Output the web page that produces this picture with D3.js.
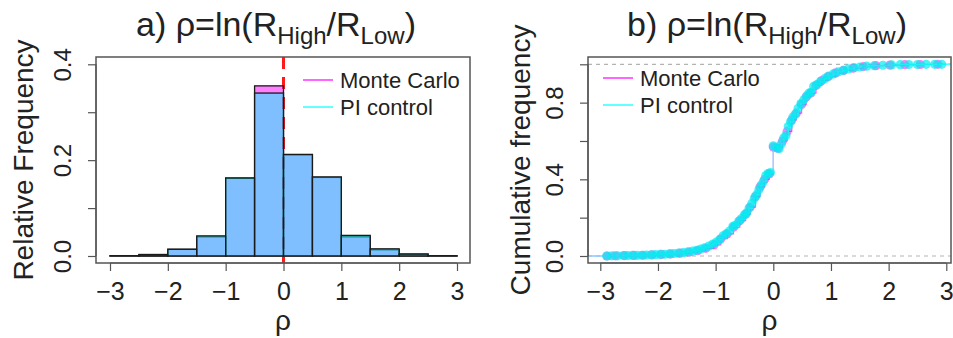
<!DOCTYPE html>
<html>
<head>
<meta charset="utf-8">
<script src="https://d3js.org/d3.v7.min.js"></script>
<style>
  body { margin: 0; background: #fff; }
  svg { font-family: "Liberation Sans", Arial, sans-serif; }
</style>
</head>
<body>
<svg id="chart" width="953" height="338"></svg>
<script>
// --- data ---
const binEdges = [-3, -2.5, -2, -1.5, -1, -0.5, 0, 0.5, 1, 1.5, 2, 2.5, 3];
const mcFreq = [0.0005, 0.003, 0.014, 0.040, 0.162, 0.355, 0.211, 0.164, 0.040, 0.013, 0.004, 0.0005];
const piFreq = [0.0005, 0.003, 0.014, 0.042, 0.163, 0.340, 0.212, 0.165, 0.043, 0.015, 0.004, 0.0005];

// empirical cdf, PI control (rho, F)
const piRho = [-2.89, -2.80, -2.70, -2.60, -2.52, -2.44, -2.36, -2.28, -2.20, -2.12, -2.04, -1.96, -1.88, -1.80,
  -1.72, -1.64, -1.56, -1.48, -1.40, -1.33, -1.26, -1.19, -1.12, -1.05, -0.99, -0.93, -0.87, -0.82, -0.76,
  -0.70, -0.66, -0.60, -0.55, -0.50, -0.46, -0.42, -0.37, -0.33, -0.29, -0.25, -0.21, -0.17, -0.13, -0.09,
  -0.05, 0.00, 0.05, 0.10, 0.14, 0.18, 0.22, 0.26, 0.30, 0.34, 0.38, 0.43, 0.48, 0.53, 0.58, 0.62, 0.66,
  0.70, 0.76, 0.82, 0.89, 0.96, 1.04, 1.12, 1.21, 1.30, 1.40, 1.50, 1.62, 1.75, 1.90, 2.05, 2.20, 2.35,
  2.50, 2.65, 2.80, 2.92];
const piCdf = [0.000, 0.001, 0.001, 0.002, 0.002, 0.003, 0.003, 0.004, 0.005, 0.006, 0.007, 0.008, 0.009, 0.011,
  0.013, 0.015, 0.018, 0.021, 0.025, 0.030, 0.036, 0.043, 0.051, 0.062, 0.072, 0.085, 0.105, 0.115, 0.130,
  0.155, 0.160, 0.180, 0.195, 0.215, 0.225, 0.250, 0.275, 0.300, 0.320, 0.345, 0.370, 0.390, 0.420, 0.430,
  0.435, 0.575, 0.565, 0.560, 0.585, 0.615, 0.630, 0.675, 0.700, 0.725, 0.740, 0.770, 0.795, 0.815, 0.835,
  0.850, 0.855, 0.885, 0.895, 0.910, 0.925, 0.938, 0.950, 0.960, 0.968, 0.976, 0.982, 0.986, 0.990, 0.993,
  0.995, 0.997, 0.998, 0.999, 0.999, 1.000, 1.000, 1.000];

// empirical cdf, Monte Carlo (mostly hidden under PI control)
const mcRho = [-2.88, -2.74, -2.58, -2.42, -2.26, -2.10, -1.94, -1.78, -1.62, -1.46, -1.31, -1.17, -1.03, -0.91,
  -0.80, -0.69, -0.58, -0.48, -0.40, -0.31, -0.23, -0.15, -0.07, 0.00, 0.08, 0.16, 0.24, 0.32, 0.40, 0.49,
  0.57, 0.65, 0.74, 0.84, 0.95, 1.08, 1.22, 1.38, 1.56, 1.78, 2.02, 2.28, 2.55, 2.85];
const mcCdf = [0.000, 0.001, 0.002, 0.003, 0.004, 0.006, 0.008, 0.011, 0.015, 0.020, 0.028, 0.040, 0.058, 0.090,
  0.115, 0.150, 0.185, 0.218, 0.255, 0.310, 0.360, 0.400, 0.428, 0.568, 0.562, 0.600, 0.650, 0.710, 0.745,
  0.790, 0.830, 0.850, 0.890, 0.915, 0.936, 0.955, 0.968, 0.980, 0.988, 0.993, 0.996, 0.998, 0.999, 1.000];

const xTicks = [-3, -2, -1, 0, 1, 2, 3];
const histYTicks = [0, 0.1, 0.2, 0.3, 0.4];
const histYLabels = ["0.0", "", "0.2", "", "0.4"];
const cdfYTicks = [0, 0.2, 0.4, 0.6, 0.8, 1.0];
const cdfYLabels = ["0.0", "", "0.4", "", "0.8", ""];
const legendNames = ["Monte Carlo", "PI control"];

// --- styling ---
const axisCol = "#555";
const textCol = "#222";
const mcFill = "rgba(255,0,255,0.5)";
const piFill = "rgba(0,255,255,0.5)";
const mcPoint = "rgba(255,0,255,0.5)";
const piPoint = "rgba(0,236,240,0.7)";
const legendCols = ["#ff66ff", "#66ffff"];

const svg = d3.select("#chart");

//Draws box, ticks, labels and titles of one panel
function frame(p) {
  let g = svg.append("g");

  // box
  g.append("rect")
    .attr("x", p.box[0]).attr("y", p.box[1])
    .attr("width", p.box[2] - p.box[0]).attr("height", p.box[3] - p.box[1])
    .attr("fill", "none").attr("stroke", axisCol).attr("stroke-width", 1.5);

  // x axis
  let xa = g.append("g").attr("transform", "translate(0," + p.box[3] + ")")
    .call(d3.axisBottom(p.x).tickValues(xTicks).tickSize(8).tickPadding(11)
      .tickFormat(d => d < 0 ? "\u2212" + Math.abs(d) : d));
  xa.select(".domain").attr("stroke", axisCol).attr("stroke-width", 1.2)
    .attr("d", "M" + p.x(-3) + ",0H" + p.x(3));
  xa.selectAll(".tick line").attr("stroke", axisCol).attr("stroke-width", 1.2);
  xa.selectAll(".tick text").attr("font-size", 25).attr("fill", textCol).attr("font-family", null);

  // y axis, labels parallel to the axis
  let ya = g.append("g").attr("transform", "translate(" + p.box[0] + ",0)")
    .call(d3.axisLeft(p.y).tickValues(p.yTicks).tickSize(8).tickFormat((d, i) => p.yLabels[i]));
  ya.select(".domain").attr("stroke", axisCol).attr("stroke-width", 1.2)
    .attr("d", "M0," + p.y(p.yTicks[0]) + "V" + p.y(p.yTicks[p.yTicks.length - 1]));
  ya.selectAll(".tick line").attr("stroke", axisCol).attr("stroke-width", 1.2);
  ya.selectAll(".tick text")
    .attr("font-size", 24).attr("fill", textCol).attr("font-family", null)
    .attr("x", null).attr("dy", null)
    .attr("text-anchor", "middle")
    .attr("transform", "translate(" + p.yTickBase + ",0) rotate(-90)");

  // axis titles
  g.append("text")
    .attr("x", (p.box[0] + p.box[2]) / 2).attr("y", 330)
    .attr("text-anchor", "middle").attr("font-size", 28).attr("fill", textCol)
    .text("\u03c1");
  g.append("text")
    .attr("transform", "translate(" + p.yTitleBase + "," + (p.box[1] + p.box[3]) / 2 + ") rotate(-90)")
    .attr("text-anchor", "middle").attr("font-size", 28).attr("fill", textCol)
    .text(p.yTitle);

  // main title with subscripts
  let t = g.append("text")
    .attr("x", p.titleX).attr("y", 36)
    .attr("text-anchor", "middle").attr("font-size", 34).attr("fill", textCol);
  t.append("tspan").text(p.letter + " \u03c1=ln(R");
  t.append("tspan").attr("dy", 8).attr("font-size", 24).text("High");
  t.append("tspan").attr("dy", -8).text("/R");
  t.append("tspan").attr("dy", 8).attr("font-size", 24).text("Low");
  t.append("tspan").attr("dy", -8).text(")");

  return g;
}

function legend(g, lx, ly) {
  legendNames.forEach(function(name, i) {
    g.append("line")
      .attr("x1", lx).attr("x2", lx + 30)
      .attr("y1", ly + i * 27).attr("y2", ly + i * 27)
      .attr("stroke", legendCols[i]).attr("stroke-width", 2);
    g.append("text")
      .attr("x", lx + 37).attr("y", ly + i * 27 + 8)
      .attr("font-size", 22).attr("fill", textCol)
      .text(name);
  });
}

// ---------- a) histogram ----------
const histX = d3.scaleLinear().domain([-3, 3]).range([110, 457]);
const histY = d3.scaleLinear().domain([0, 0.4]).range([256, 64.3]);
const histBox = [96, 57, 470, 263];

// red dashed line at zero (under the bars)
svg.append("line")
  .attr("x1", histX(0)).attr("x2", histX(0))
  .attr("y1", histBox[1]).attr("y2", histBox[3])
  .attr("stroke", "#ff1a1a").attr("stroke-width", 3)
  .attr("stroke-dasharray", "12,8");

function bars(freq, fill) {
  svg.append("g").selectAll("rect")
    .data(freq)
    .enter()
    .append("rect")
      .attr("x", (d, i) => histX(binEdges[i]))
      .attr("width", (d, i) => histX(binEdges[i + 1]) - histX(binEdges[i]))
      .attr("y", d => histY(d))
      .attr("height", d => histY(0) - histY(d))
      .attr("fill", fill)
      .attr("stroke", "#1a1a1a").attr("stroke-width", 1.3);
}
bars(mcFreq, mcFill);
bars(piFreq, piFill);

let gA = frame({
  box: histBox, x: histX, y: histY,
  yTicks: histYTicks, yLabels: histYLabels,
  yTickBase: -25, yTitleBase: 33, titleX: 276,
  yTitle: "Relative Frequency", letter: "a)"
});
legend(gA, 303, 80);

// ---------- b) cumulative ----------
const cdfBox = [588, 57, 951, 263];
const cdfX = d3.scaleLinear().domain([-3, 3]).range([600.3, 946.3]);
const cdfY = d3.scaleLinear().domain([0, 1]).range([256, 64.3]);

// gray dashed 0 and 1 lines
[0, 1].forEach(function(v) {
  svg.append("line")
    .attr("x1", cdfBox[0]).attr("x2", cdfBox[2])
    .attr("y1", cdfY(v)).attr("y2", cdfY(v))
    .attr("stroke", "#b3b3b3").attr("stroke-width", 1.2)
    .attr("stroke-dasharray", "4,4");
});

function ecdf(rho, cdf, lineCol, pointCol) {
  let pts = rho.map((r, i) => [r, cdf[i]]);
  // extend the step line to the plot edges
  let stepPts = [[cdfX.invert(cdfBox[0]), 0]].concat(pts, [[cdfX.invert(cdfBox[2]), 1]]);
  let line = d3.line()
    .x(d => cdfX(d[0]))
    .y(d => cdfY(d[1]))
    .curve(d3.curveStepAfter);
  svg.append("path")
    .datum(stepPts)
    .attr("fill", "none")
    .attr("stroke", lineCol).attr("stroke-width", 1.2)
    .attr("d", line);
  svg.append("g").selectAll("circle")
    .data(pts)
    .enter()
    .append("circle")
      .attr("cx", d => cdfX(d[0]))
      .attr("cy", d => cdfY(d[1]))
      .attr("r", 4.6)
      .attr("fill", pointCol);
}
ecdf(mcRho, mcCdf, "#ff55ff", mcPoint);
ecdf(piRho, piCdf, "#55ffff", piPoint);

let gB = frame({
  box: cdfBox, x: cdfX, y: cdfY,
  yTicks: cdfYTicks, yLabels: cdfYLabels,
  yTickBase: -25, yTitleBase: 530, titleX: 767,
  yTitle: "Cumulative frequency", letter: "b)"
});
legend(gB, 603, 78);
</script>
</body>
</html>
